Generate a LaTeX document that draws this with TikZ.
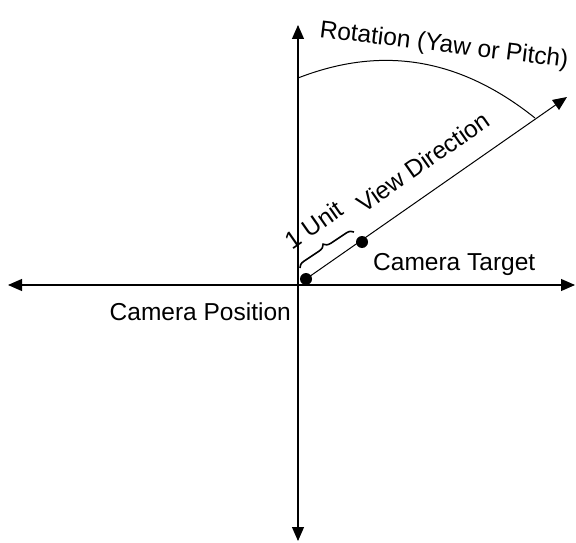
\documentclass[tikz,border=0pt]{standalone}
\usepackage{fontspec}
\setmainfont{Liberation Sans}
\usetikzlibrary{arrows.meta,decorations.pathreplacing}
\begin{document}
\begin{tikzpicture}[x=1pt,y=-1pt,
  axis/.style={line width=1.1pt,-{Triangle[length=14pt,width=12pt]}},
  dot/.style={circle,fill=black,inner sep=0pt,minimum size=12pt},
  lbl/.style={font=\fontsize{24.5}{28}\selectfont,inner sep=0pt}]
\useasboundingbox (0,0) rectangle (576,543);
% axes
\coordinate (o) at (298,285);
\coordinate (top) at (298,25);
\coordinate (bot) at (298,541);
\coordinate (lft) at (8,285);
\coordinate (rgt) at (575,285);
\draw[axis] (o) -- (top);
\draw[axis] (o) -- (bot);
\draw[axis] (o) -- (lft);
\draw[axis] (o) -- (rgt);
% camera and target
\node[dot] (cam) at (306,279) {};
\node[dot] (tgt) at (362,242) {};
\coordinate (view) at (567,97);
\draw[axis,line width=1pt] (cam.center) -- (view);
% rotation arc
\coordinate (a0) at (298,78);
\coordinate (a1) at (535,118);
\draw[line width=1pt] (a0) .. controls (370,50) and (450,50) .. (a1);
% unit brace
\coordinate (b0) at (300,268);
\coordinate (b1) at (354,232);
\draw[line width=1.6pt,decorate,decoration={brace,amplitude=7pt}] (b0) -- (b1);
% labels
\node[lbl,rotate=-7] (rot) at (444,46) {Rotation (Yaw or Pitch)};
\node[lbl,rotate=35] (vd) at (423,162) {View Direction};
\node[lbl,rotate=35] (unit) at (314,225) {1 Unit};
\node[lbl,anchor=base west] (tl) at (373,270) {Camera Target};
\node[lbl,anchor=base east] (pl) at (291,320) {Camera Position};
\end{tikzpicture}
\end{document}
